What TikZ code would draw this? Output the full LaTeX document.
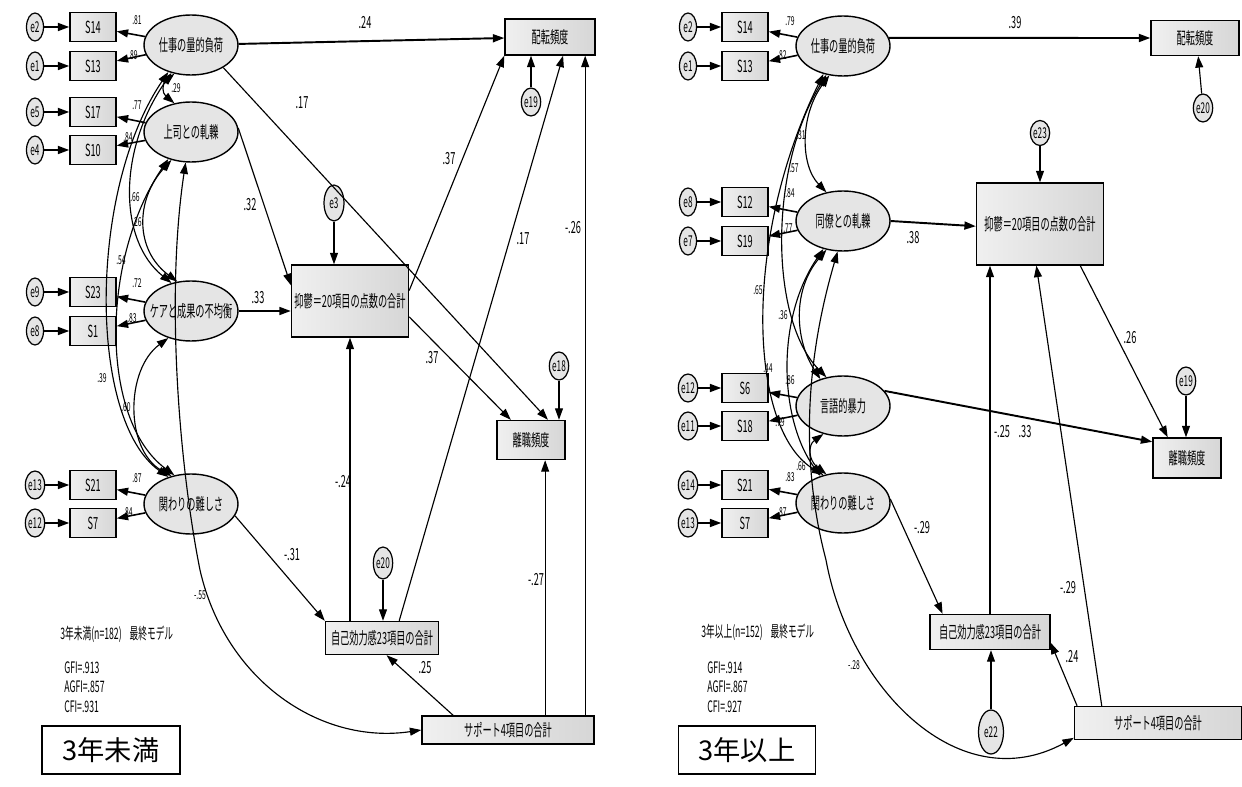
\documentclass[tikz,border=0pt]{standalone}
\usepackage{fontspec}
\setmainfont{Noto Sans CJK JP}
\newfontfamily\narrowjp[FakeStretch=0.55]{Noto Sans CJK JP}
\usetikzlibrary{arrows.meta,shapes.geometric}

\begin{document}
\begin{tikzpicture}[x=0.02cm, y=-0.02cm,
  font=\narrowjp\fontsize{8}{9}\selectfont,
  latent/.style={ellipse, draw, line width=0.8pt, fill=gray!20, minimum width=1.88cm, minimum height=1.2cm, inner xsep=-8pt, inner ysep=0pt, font=\narrowjp\fontsize{9.5}{10}\selectfont},
  obs/.style={draw, line width=0.8pt, left color=gray!12, right color=gray!32, minimum width=0.92cm, minimum height=0.58cm, inner sep=0pt, font=\narrowjp\fontsize{9.5}{10}\selectfont},
  endo/.style={draw, line width=0.8pt, left color=gray!12, right color=gray!32, inner sep=0pt, font=\narrowjp\fontsize{9.5}{10}\selectfont},
  errc/.style={ellipse, draw, line width=0.7pt, fill=gray!20, minimum width=0.34cm, minimum height=0.56cm, inner sep=0pt, font=\narrowjp\fontsize{8.5}{9}\selectfont},
  regr/.style={-{Triangle[length=6.5pt,width=4.5pt]}, line width=0.65pt},
  heavy/.style={regr, line width=1.1pt},
  load/.style={regr, line width=0.9pt},
  cov/.style={{Triangle[length=6.5pt,width=4.5pt]}-{Triangle[length=6.5pt,width=4.5pt]}, line width=0.65pt},
  coef/.style={inner sep=0pt, font=\narrowjp\fontsize{9.5}{10}\selectfont},
  ldlbl/.style={inner sep=0pt, font=\narrowjp\fontsize{7}{8}\selectfont},
  note/.style={anchor=west, inner sep=0pt, align=left, font=\narrowjp\fontsize{9}{11}\selectfont},
  grouptag/.style={draw, line width=0.6pt, fill=white, minimum height=0.96cm, font=\fontsize{15.5}{16}\selectfont}
]
\path[use as bounding box, fill=white] (0,0) rectangle (1242,787);

% ---- left model (3年未満) ----
\node[latent] (lwork) at (191,45) {仕事の量的負荷};
\node[latent] (lboss) at (191,132) {上司との軋轢};
\node[latent] (lcare) at (191,311) {ケアと成果の不均衡};
\node[latent] (lhard) at (191,504) {関わりの難しさ};

\foreach \er/\ob/\yy/\fac/\val/\vx/\vy in {e2/S14/27/lwork/.81/137/20, e1/S13/66/lwork/.89/133/55, e5/S17/112/lboss/.77/137/105, e4/S10/150/lboss/.84/128/137, e9/S23/292/lcare/.72/137/283, e8/S1/331/lcare/.83/132/318, e13/S21/485/lhard/.87/137/478, e12/S7/523/lhard/.84/128/512}{
  \node[errc] (l\er) at (35,\yy) {\er};
  \node[obs] (l\ob) at (93,\yy) {\ob};
  \draw[heavy] (l\er) -- (l\ob);
  \draw[load] (\fac) -- (l\ob);
  \node[ldlbl] (lv\ob) at (\vx,\vy) {\val};
}

\node[endo, minimum width=1.8cm, minimum height=0.72cm] (lhai) at (550,37) {配転頻度};
\node[endo, minimum width=2.34cm, minimum height=1.44cm] (ldep) at (350,301) {抑鬱＝20項目の点数の合計};
\node[endo, minimum width=1.36cm, minimum height=0.78cm] (lquit) at (531,440) {離職頻度};
\node[endo, minimum width=2.26cm, minimum height=0.66cm] (lself) at (382,638) {自己効力感23項目の合計};
\node[endo, minimum width=3.44cm, minimum height=0.56cm] (lsup) at (508,730) {サポート4項目の合計};

\node[errc] (le19) at (531,102) {e19};
\node[errc, minimum width=0.4cm, minimum height=0.72cm] (le3) at (334,203) {e3};
\node[errc] (le18) at (559,366) {e18};
\node[errc, minimum height=0.64cm] (le20) at (383,563) {e20};

\draw[heavy] (lwork) -- (lhai);
\draw[regr] (lwork.-35) -- (lquit.50);
\draw[regr] (lboss.5) -- (ldep.165);
\draw[heavy] (lcare.east) -- (lcare.east -| ldep.west);
\draw[regr] (lhard.-15) -- (lself.north west);
\draw[regr] (ldep.10) -- (lhai.south west);
\draw[regr] (ldep.-15) -- (lquit.135);
\draw[regr] (lself.north -| ldep.south) -- (ldep.south);
\draw[regr] (lself.45) -- (lhai.-55);
\draw[regr] (lsup.165) -- (lself.-75);
\draw[regr] (lsup.north -| lquit.-55) -- (lquit.-55);
\draw[regr] (lsup.north -| lhai.-28) -- (lhai.-28);
\draw[regr] (le3) -- (le3 |- ldep.north);
\draw[regr] (le18) -- (le18 |- lquit.north);
\draw[regr] (le19) -- (le19 |- lhai.south);
\draw[regr] (le20) -- (le20 |- lself.north);

\draw[cov] (lwork.240) .. controls (162,84) and (162,93) .. (lboss.120);
\draw[cov] (lwork.235) .. controls (118,150) and (118,240) .. (lcare.125);
\draw[cov] (lwork.230) .. controls (88,190) and (88,420) .. (lhard.130);
\draw[cov] (lboss.235) .. controls (135,200) and (135,250) .. (lcare.115);
\draw[cov] (lboss.230) .. controls (100,260) and (100,420) .. (lhard.120);
\draw[cov] (lcare.230) .. controls (125,370) and (125,450) .. (lhard.125);
\draw[cov] (lboss.-100) .. controls (165,300) and (180,470) .. (200,570) .. controls (225,680) and (320,745) .. (lsup.west);

\foreach \nm/\val/\px/\py in {k24/.24/365/23, k17a/.17/302/103, k32/.32/250/205, k33/.33/258/298, k37a/.37/449/159, k17b/.17/523/239, k26/-.26/573/228, k37b/.37/432/358, k24n/-.24/343/482, k31/-.31/292/555, k25/.25/425/668, k27/-.27/536/580}{
  \node[coef] (l\nm) at (\px,\py) {\val};
}
\foreach \nm/\val/\px/\py in {v29/.29/176/88, v66/.66/135/197, v26/.26/137/222, v54/.54/121/260, v39/.39/102/378, v60/.60/126/407, v55/-.55/200/595}{
  \node[ldlbl] (l\nm) at (\px,\py) {\val};
}

\node[note] (lnote) at (60,634) {3年未満(n=182)\enspace 最終モデル};
\node[note] (lfit) at (64,687) {GFI=.913\\AGFI=.857\\CFI=.931};
\node[grouptag, minimum width=2.76cm] (ltag) at (111,750) {3年未満};

% ---- right model (3年以上) ----
\node[latent] (rwork) at (843,46) {仕事の量的負荷};
\node[latent] (rpeer) at (843,221) {同僚との軋轢};
\node[latent] (rverb) at (843,406) {言語的暴力};
\node[latent] (rhard) at (843,503) {関わりの難しさ};

\foreach \er/\ob/\yy/\fac/\val/\vx/\vy in {e2/S14/27/rwork/.79/790/21, e1/S13/66/rwork/.82/782/55, e8/S12/202/rpeer/.84/790/193, e7/S19/241/rpeer/.77/788/228, e12/S6/388/rverb/.86/790/380, e11/S18/426/rverb/.79/780/422, e14/S21/485/rhard/.83/790/477, e13/S7/523/rhard/.87/782/512}{
  \node[errc] (r\er) at (688,\yy) {\er};
  \node[obs] (r\ob) at (745,\yy) {\ob};
  \draw[heavy] (r\er) -- (r\ob);
  \draw[load] (\fac) -- (r\ob);
  \node[ldlbl] (rv\ob) at (\vx,\vy) {\val};
}

\node[endo, minimum width=1.76cm, minimum height=0.7cm] (rhai) at (1195,38) {配転頻度};
\node[endo, minimum width=2.54cm, minimum height=1.64cm] (rdep) at (1040,224) {抑鬱＝20項目の点数の合計};
\node[endo, minimum width=1.36cm, minimum height=0.8cm] (rquit) at (1187,458) {離職頻度};
\node[endo, minimum width=2.4cm, minimum height=0.7cm] (rself) at (990,632) {自己効力感23項目の合計};
\node[endo, minimum width=3.34cm, minimum height=0.66cm] (rsup) at (1158,723) {サポート4項目の合計};

\node[errc] (re20) at (1203,108) {e20};
\node[errc, minimum height=0.5cm] (re23) at (1040,133) {e23};
\node[errc] (re19) at (1186,381) {e19};
\node[errc, minimum width=0.5cm, minimum height=0.88cm] (re22) at (991,732) {e22};

\draw[heavy] (rwork.10) -- (rhai.west);
\draw[regr] (re20) -- (rhai.-80);
\draw[heavy] (rpeer.east) -- (rdep.182);
\draw[regr] (re23) -- (re23 |- rdep.north);
\draw[regr] (rdep.-46) -- (rquit.133);
\draw[regr] (re19) -- (re19 |- rquit.north);
\draw[heavy] (rverb.20) -- (rquit.155);
\draw[regr] (rself.north) -- (rself.north |- rdep.south);
\draw[regr] (rsup.163) -- (rdep.-95);
\draw[regr] (rsup.168) -- (rself.-10);
\draw[regr] (rhard.5) -- (rself.159);
\draw[regr] (re22) -- (re22 |- rself.south);

\draw[cov] (rwork.245) .. controls (800,115) and (800,165) .. (rpeer.120);
\draw[cov] (rwork.240) .. controls (768,170) and (770,320) .. (rverb.120);
\draw[cov] (rwork.235) .. controls (742,240) and (748,430) .. (rhard.125);
\draw[cov] (rpeer.240) .. controls (792,290) and (795,340) .. (rverb.130);
\draw[cov] (rpeer.235) .. controls (775,320) and (780,420) .. (rhard.130);
\draw[cov] (rverb.235) .. controls (808,445) and (808,460) .. (rhard.120);
\draw[cov] (rpeer.-100) .. controls (800,380) and (805,480) .. (826,560) .. controls (850,690) and (960,800) .. (rsup.190);

\foreach \nm/\val/\px/\py in {k39/.39/1015/23, k38/.38/913/238, k25n/-.25/1002/432, k33/.33/1025/432, k26/.26/1130/338, k29a/-.29/922/528, k29b/-.29/1068/588, k24/.24/1072/657}{
  \node[coef] (r\nm) at (\px,\py) {\val};
}
\foreach \nm/\val/\px/\py in {v31/.31/801/135, v57/.57/794/168, v65/.65/758/290, v36/.36/783/315, v44/.44/768/368, v66/.66/801/466, v28/-.28/854/665}{
  \node[ldlbl] (r\nm) at (\px,\py) {\val};
}

\node[note] (rnote) at (701,632) {3年以上(n=152)\enspace 最終モデル};
\node[note] (rfit) at (707,687) {GFI=.914\\AGFI=.867\\CFI=.927};
\node[grouptag, minimum width=2.74cm] (rtag) at (747,750) {3年以上};
\end{tikzpicture}
\end{document}
